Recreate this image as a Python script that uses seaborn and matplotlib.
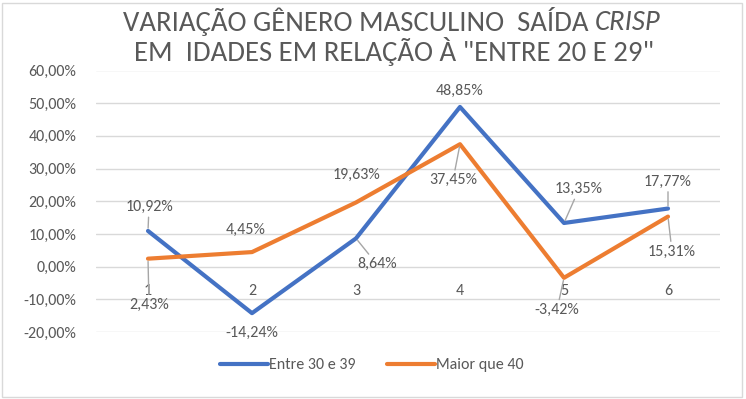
import numpy as np
import pandas as pd
import matplotlib
matplotlib.use("Agg")
import matplotlib.pyplot as plt
from matplotlib.patches import Rectangle
import seaborn as sns

# dados
categorias = [1, 2, 3, 4, 5, 6]
entre_30_39 = [10.92, -14.24, 8.64, 48.85, 13.35, 17.77]
maior_40 = [2.43, 4.45, 19.63, 37.45, -3.42, 15.31]
series = ["Entre 30 e 39", "Maior que 40"]
y_ticks = [-20, -10, 0, 10, 20, 30, 40, 50, 60]

cores = {"Entre 30 e 39": "#4472C4", "Maior que 40": "#ED7D31"}
cinza = "#595959"

# deslocamento dos rótulos (pixels) e se há linha de chamada
rotulos_azul = [(1, 24, True), (0, -20, False), (21, -26, True),
                (0, 16, False), (15, 34, True), (0, 27, True)]
rotulos_laranja = [(1, -46, True), (-6, 22, False), (0, 28, False),
                   (-7, -36, True), (-7, -32, True), (4, -35, True)]

sns.set_style("white")
plt.rcParams["font.family"] = ["Carlito", "DejaVu Sans"]

df = pd.DataFrame({
    "categoria": categorias * 2,
    "valor": entre_30_39 + maior_40,
    "serie": [series[0]] * 6 + [series[1]] * 6,
})

fig = plt.figure(figsize=(7.46, 3.99), dpi=100)
ax = fig.add_axes([96 / 746, 1 - 332 / 399, (720 - 96) / 746, (332 - 70.5) / 399])

sns.lineplot(data=df, x="categoria", y="valor", hue="serie", palette=cores,
             linewidth=3, ax=ax, legend=False, solid_capstyle="round")

ax.set_xlim(0.5, 6.5)
ax.set_ylim(-20, 60)
ax.set_yticks(y_ticks)
ax.set_yticklabels([f"{v:.2f}%".replace(".", ",") for v in y_ticks],
                   fontsize=11.5, color=cinza)
ax.tick_params(axis="y", length=0, pad=14)
ax.set_xticks([])
ax.set_xlabel("")
ax.set_ylabel("")
ax.grid(axis="y", color="#D9D9D9", linewidth=1)
ax.set_axisbelow(True)
for s in ax.spines.values():
    s.set_visible(False)

# rótulos do eixo de categorias
for c in categorias:
    ax.text(c, -7.6, str(c), ha="center", va="center", fontsize=11.5, color=cinza)

# rótulos de dados
for valores, rot in [(entre_30_39, rotulos_azul), (maior_40, rotulos_laranja)]:
    for c, v, (dx, dy, chamada) in zip(categorias, valores, rot):
        txt = f"{v:.2f}%".replace(".", ",")
        props = None
        if chamada:
            props = dict(arrowstyle="-", color="#A6A6A6", lw=1, shrinkA=0, shrinkB=2)
        ax.annotate(txt, xy=(c, v), xytext=(dx, dy), textcoords="offset pixels",
                    ha="center", va="center", fontsize=11.5, color=cinza,
                    arrowprops=props)

# título
t1 = fig.text(595 / 746, 1 - 22 / 399, "VARIAÇÃO GÊNERO MASCULINO  SAÍDA ",
              ha="right", va="center", fontsize=20.7, color=cinza)
ax.annotate("CRISP", xy=(1, 0.5), xycoords=t1, ha="left", va="center",
            fontsize=20.7, color=cinza, style="italic")
fig.text(394 / 746, 1 - 52 / 399, 'EM  IDADES EM RELAÇÃO À "ENTRE 20 E 29"',
         ha="center", va="center", fontsize=20.7, color=cinza)

# legenda
handles = [plt.Line2D([], [], color=cores[s], linewidth=3, solid_capstyle="round")
           for s in series]
fig.legend(handles, series, loc="center", bbox_to_anchor=(372 / 746, 1 - 365 / 399),
           ncol=2, frameon=False, fontsize=11.5, handlelength=3, columnspacing=2,
           handletextpad=0.05, labelcolor=cinza)

fig.add_artist(Rectangle((2 / 746, 2 / 399), 740 / 746, 394 / 399,
                         transform=fig.transFigure, fill=False,
                         edgecolor="#D9D9D9", linewidth=1))

fig.savefig("out.png", dpi=100)
